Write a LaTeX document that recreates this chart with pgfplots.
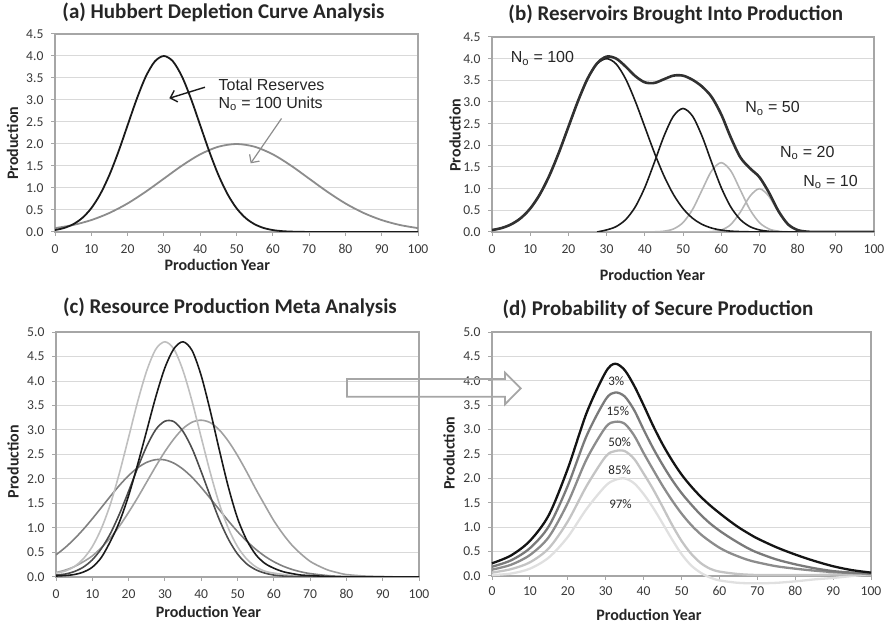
\documentclass[border=0pt]{standalone}
\usepackage{pgfplots}
\pgfplotsset{compat=1.18}
\usepackage{fontspec}
\setmainfont{Carlito}
\newfontfamily\arialfont{Liberation Sans}
\usetikzlibrary{arrows.meta}
\definecolor{gridc}{HTML}{D9D9D9}
\definecolor{axisc}{HTML}{A6A6A6}
\definecolor{tickc}{HTML}{3A3A3A}
\definecolor{titc}{HTML}{262626}
\definecolor{cblack}{HTML}{1A1A1A}
\definecolor{cgray}{HTML}{8C8C8C}
\definecolor{clight}{HTML}{B5B5B5}
\definecolor{cL}{HTML}{BFBFBF}
\definecolor{cD}{HTML}{4D4D4D}
\definecolor{cG}{HTML}{A0A0A0}
\definecolor{cM}{HTML}{808080}
\definecolor{dA}{HTML}{141414}
\definecolor{dB}{HTML}{7A7A7A}
\definecolor{dC}{HTML}{8C8C8C}
\definecolor{dD}{HTML}{C4C4C4}
\definecolor{dE}{HTML}{E0E0E0}
\tikzset{annot/.style={font=\arialfont\fontsize{16}{18}\selectfont, text=titc, anchor=base west}}
\pgfplotsset{
  panel/.style={
    scale only axis,
    xmin=0, xmax=100, ymin=0,
    xtick={0,10,...,100},
    ymajorgrids,
    major grid style={draw=gridc, line width=1pt},
    axis line style={draw=axisc, line width=1.4pt},
    tick style={draw=axisc, line width=1pt},
    tick align=outside,
    major tick length=4pt,
    tick pos=left,
    /pgf/number format/assume math mode=true,
    tick label style={font=\fontsize{13.6}{15}\selectfont, text=tickc},
    yticklabel style={/pgf/number format/fixed, /pgf/number format/fixed zerofill, /pgf/number format/precision=1, xshift=-4pt},
    xticklabel style={yshift=-5pt},
    xlabel={Production Year}, ylabel={Production},
    label style={font=\bfseries\fontsize{16}{18}\selectfont, text=titc},
    title style={font=\bfseries\fontsize{21}{24}\selectfont, text=titc, anchor=base},
    every axis plot/.append style={smooth, no markers, line join=round},
  },
}
\begin{document}
\begin{tikzpicture}[x=1pt,y=1pt]
\useasboundingbox (0,0) rectangle (888,623);
% ---------------- (a)
\begin{axis}[panel, at={(55pt,391pt)}, anchor=south west,
  width=363pt, height=198pt, ymax=4.5, ytick={0,0.5,...,4.5},
  title={(a) Hubbert Depletion Curve Analysis},
  title style={at={(axis description cs:0.464,1.049)}},
  xlabel style={at={(axis description cs:0.447,-0.192)}, anchor=base},
  ylabel style={at={(axis description cs:-0.117,0.448)}, anchor=center}]
\addplot[cgray, line width=1.8pt] coordinates {
(0,0.088) (5,0.159) (10,0.271) (15,0.433) (20,0.649) (25,0.916) (30,1.213) (35,1.510) (40,1.765) (45,1.938) (50,2.000) (55,1.938) (60,1.765) (65,1.510) (70,1.213) (75,0.916) (80,0.649) (85,0.433) (90,0.271) (95,0.159) (100,0.088)};
\addplot[cblack, line width=1.8pt] coordinates {
(0,0.044) (2.5,0.091) (5,0.176) (7.5,0.318) (10,0.541) (12.5,0.865) (15,1.299) (17.5,1.831) (20,2.426) (22.5,3.019) (25,3.530) (27.5,3.877) (30,4.000) (32.5,3.877) (35,3.530) (37.5,3.019) (40,2.426) (42.5,1.831) (45,1.299) (47.5,0.865) (50,0.541) (52.5,0.318) (55,0.176) (57.5,0.091) (60,0.044) (62.5,0.020) (65,0.009) (67.5,0.004) (70,0.001) (75,0) (80,0) (85,0) (90,0) (95,0) (100,0)};
\node[annot] at (axis cs:44.1,3.21) {Total Reserves};
\node[annot] at (axis cs:44.1,2.81) {N\textsubscript{o} = 100 Units};
\draw[cblack, line width=1.4pt, -{Straight Barb[length=6pt,width=12pt]}] (axis cs:41.3,3.29) -- (axis cs:31.5,3.04);
\draw[cgray, line width=1.2pt, -{Straight Barb[length=6pt,width=12pt]}] (axis cs:62.4,2.58) -- (axis cs:53.9,1.56);
\end{axis}
% ---------------- (b)
\begin{axis}[panel, at={(492pt,391pt)}, anchor=south west,
  width=382pt, height=195pt, ymax=4.5, ytick={0,0.5,...,4.5},
  title={(b) Reservoirs Brought Into Production},
  title style={at={(axis description cs:0.481,1.056)}},
  xlabel style={at={(axis description cs:0.420,-0.248)}, anchor=base},
  ylabel style={at={(axis description cs:-0.097,0.497)}, anchor=center}]
\addplot[clight, line width=1.6pt] coordinates {
(0,0) (40,0) (42.5,0.004) (45,0.018) (47.5,0.070) (50,0.217) (52.5,0.520) (55,0.970) (57.5,1.412) (60,1.600) (62.5,1.412) (65,0.970) (67.5,0.520) (70,0.217) (72.5,0.070) (75,0.018) (77.5,0.004) (80,0.001) (82.5,0) (100,0)};
\addplot[clight, line width=1.6pt] coordinates {
(0,0) (52.5,0) (55,0.001) (57.5,0.008) (60,0.044) (62.5,0.172) (65,0.458) (67.5,0.823) (70,1.000) (72.5,0.823) (75,0.458) (77.5,0.172) (80,0.044) (82.5,0.008) (85,0.001) (87.5,0) (100,0)};
\addplot[cblack, line width=1.6pt] coordinates {
(27.5,0) (30,0.048) (32.5,0.125) (35,0.287) (37.5,0.579) (40,1.027) (42.5,1.605) (45,2.208) (47.5,2.674) (50,2.850) (52.5,2.674) (55,2.208) (57.5,1.605) (60,1.027) (62.5,0.579) (65,0.287) (67.5,0.125) (70,0.048) (72.5,0.016) (75,0.005) (77.5,0.001) (80,0) (90,0) (100,0)};
\addplot[cblack, line width=1.6pt] coordinates {
(0,0.044) (2.5,0.091) (5,0.176) (7.5,0.318) (10,0.541) (12.5,0.865) (15,1.299) (17.5,1.831) (20,2.426) (22.5,3.019) (25,3.530) (27.5,3.877) (30,4.000) (32.5,3.877) (35,3.530) (37.5,3.019) (40,2.426) (42.5,1.831) (45,1.299) (47.5,0.865) (50,0.541) (52.5,0.318) (55,0.176) (57.5,0.091) (60,0.044) (62.5,0.020) (65,0.009) (67.5,0.004) (70,0.001) (75,0) (80,0) (90,0) (100,0)};
\addplot[cblack!90!white, line width=2.6pt] coordinates {
(0,0.044) (2.5,0.091) (5,0.176) (7.5,0.318) (10,0.541) (12.5,0.865) (15,1.299) (17.5,1.831) (20,2.426) (22.5,3.019) (25,3.535) (27.5,3.893) (30,4.048) (32.5,4.002) (35,3.817) (37.5,3.598) (40,3.454) (42.5,3.440) (45,3.525) (47.5,3.609) (50,3.608) (52.5,3.512) (55,3.355) (57.5,3.116) (60,2.715) (62.5,2.183) (65,1.724) (67.5,1.472) (70,1.266) (72.5,0.909) (75,0.481) (77.5,0.177) (80,0.045) (82.5,0.008) (85,0.001) (87.5,0) (100,0)};
\node[annot] at (axis cs:4.0,3.90) {N\textsubscript{o} = 100};
\node[annot] at (axis cs:65.4,2.75) {N\textsubscript{o} = 50};
\node[annot] at (axis cs:74.5,1.73) {N\textsubscript{o} = 20};
\node[annot] at (axis cs:80.6,1.06) {N\textsubscript{o} = 10};
\end{axis}
% ---------------- (c)
\begin{axis}[panel, at={(56pt,46pt)}, anchor=south west,
  width=363pt, height=245pt, ymax=5, ytick={0,0.5,...,5},
  title={(c) Resource Production Meta Analysis},
  title style={at={(axis description cs:0.479,1.049)}},
  xlabel style={at={(axis description cs:0.420,-0.166)}, anchor=base},
  ylabel style={at={(axis description cs:-0.118,0.471)}, anchor=center}]
\addplot[cM, line width=1.6pt] coordinates {
(0,0.452) (2.5,0.599) (5,0.772) (7.5,0.970) (10,1.188) (12.5,1.418) (15,1.650) (17.5,1.872) (20,2.069) (22.5,2.229) (25,2.340) (27.5,2.395) (30,2.389) (32.5,2.322) (35,2.200) (37.5,2.033) (40,1.829) (42.5,1.604) (45,1.372) (47.5,1.143) (50,0.928) (52.5,0.735) (55,0.567) (57.5,0.426) (60,0.312) (62.5,0.223) (65,0.155) (67.5,0.105) (70,0.070) (75,0.028) (80,0.010) (85,0.003) (90,0) (100,0)};
\addplot[cG, line width=1.6pt] coordinates {
(0,0.09) (2.5,0.14) (5,0.21) (7.5,0.31) (10,0.43) (12.5,0.60) (15,0.80) (17.5,1.04) (20,1.32) (22.5,1.62) (25,1.94) (27.5,2.26) (30,2.56) (32.5,2.82) (35,3.03) (37.5,3.16) (40,3.20) (42.5,3.15) (45,3.00) (47.5,2.77) (50,2.48) (52.5,2.15) (55,1.80) (57.5,1.47) (60,1.15) (62.5,0.88) (65,0.65) (67.5,0.47) (70,0.32) (72.5,0.22) (75,0.14) (77.5,0.09) (80,0.05) (85,0.02) (90,0.01) (95,0) (100,0)};
\addplot[cL, line width=1.6pt] coordinates {
(0,0.08) (2.5,0.12) (5,0.21) (7.5,0.37) (10,0.62) (12.5,0.99) (15,1.49) (17.5,2.13) (20,2.85) (22.5,3.58) (25,4.21) (27.5,4.65) (30,4.80) (32.5,4.65) (35,4.21) (37.5,3.58) (40,2.85) (42.5,2.13) (45,1.49) (47.5,0.99) (50,0.62) (52.5,0.37) (55,0.21) (57.5,0.12) (60,0.08) (65,0.03) (70,0.01) (75,0) (100,0)};
\addplot[cD, line width=1.6pt] coordinates {
(0,0.04) (2.5,0.06) (5,0.11) (7.5,0.20) (10,0.35) (12.5,0.58) (15,0.89) (17.5,1.29) (20,1.75) (22.5,2.23) (25,2.67) (27.5,3.01) (30,3.18) (32.5,3.17) (35,2.97) (37.5,2.62) (40,2.15) (42.5,1.65) (45,1.17) (47.5,0.77) (50,0.47) (52.5,0.27) (55,0.15) (57.5,0.08) (60,0.04) (62.5,0.02) (65,0.01) (70,0) (100,0)};
\addplot[cblack, line width=1.6pt] coordinates {
(0,0.02) (2.5,0.03) (5,0.05) (7.5,0.10) (10,0.20) (12.5,0.40) (15,0.73) (17.5,1.13) (20,1.66) (22.5,2.30) (25,2.99) (27.5,3.68) (30,4.27) (32.5,4.66) (35,4.80) (37.5,4.62) (40,4.11) (42.5,3.39) (45,2.59) (47.5,1.83) (50,1.20) (52.5,0.76) (55,0.46) (57.5,0.28) (60,0.18) (62.5,0.11) (65,0.07) (67.5,0.04) (70,0.03) (75,0.01) (80,0) (100,0)};
\end{axis}
% ---------------- (d)
\begin{axis}[panel, at={(492pt,47pt)}, anchor=south west, clip=false,
  width=379pt, height=244pt, ymax=5, ytick={0,0.5,...,5},
  xticklabel style={yshift=2pt},
  title={(d) Probability of Secure Production},
  title style={at={(axis description cs:0.438,1.042)}},
  xlabel style={at={(axis description cs:0.414,-0.183)}, anchor=base},
  ylabel style={at={(axis description cs:-0.113,0.504)}, anchor=center}]
\addplot[dE, line width=2.3pt] coordinates {
(0,0.02) (5,0.05) (10,0.15) (15,0.38) (20,0.80) (25,1.38) (30,1.85) (32.5,1.97) (35,2.00) (37.5,1.90) (40,1.68) (42.5,1.40) (45,1.08) (47.5,0.75) (50,0.45) (52.5,0.22) (55,0.07) (57.5,-0.03) (60,-0.09) (65,-0.14) (70,-0.15) (75,-0.14) (80,-0.11) (85,-0.07) (90,-0.04) (95,0.00) (100,0.04)};
\addplot[dD, line width=2.3pt] coordinates {
(0,0.07) (5,0.14) (10,0.28) (15,0.57) (20,1.12) (25,1.85) (30,2.45) (32.5,2.56) (35,2.56) (37.5,2.40) (40,2.10) (42.5,1.78) (45,1.42) (47.5,1.05) (50,0.72) (52.5,0.46) (55,0.27) (57.5,0.15) (60,0.09) (65,0.04) (70,0.02) (75,0.02) (80,0.02) (85,0.02) (90,0.03) (95,0.03) (100,0.04)};
\addplot[dC, line width=2.3pt] coordinates {
(0,0.13) (5,0.23) (10,0.43) (15,0.80) (20,1.50) (25,2.40) (30,3.05) (32.5,3.16) (35,3.12) (37.5,2.88) (40,2.52) (42.5,2.18) (45,1.85) (47.5,1.55) (50,1.28) (52.5,1.05) (55,0.86) (57.5,0.71) (60,0.58) (62.5,0.48) (65,0.40) (67.5,0.33) (70,0.28) (75,0.20) (80,0.15) (85,0.11) (90,0.08) (95,0.06) (100,0.05)};
\addplot[dB, line width=2.3pt] coordinates {
(0,0.19) (5,0.32) (10,0.57) (15,1.02) (20,1.85) (25,2.88) (30,3.62) (32.5,3.76) (35,3.68) (37.5,3.40) (40,3.00) (42.5,2.62) (45,2.28) (47.5,1.97) (50,1.70) (52.5,1.47) (55,1.26) (57.5,1.08) (60,0.93) (62.5,0.80) (65,0.68) (67.5,0.57) (70,0.48) (75,0.34) (80,0.24) (85,0.16) (90,0.10) (95,0.07) (100,0.05)};
\addplot[dA, line width=2.3pt] coordinates {
(0,0.26) (5,0.42) (10,0.72) (15,1.25) (20,2.20) (25,3.35) (30,4.18) (32.5,4.35) (35,4.22) (37.5,3.90) (40,3.50) (42.5,3.08) (45,2.70) (47.5,2.37) (50,2.08) (52.5,1.84) (55,1.63) (57.5,1.45) (60,1.29) (62.5,1.14) (65,1.00) (67.5,0.88) (70,0.77) (75,0.59) (80,0.44) (85,0.31) (90,0.20) (95,0.12) (100,0.07)};
\node[font=\fontsize{13}{15}\selectfont, text=titc] at (axis cs:32.8,3.99) {3\%};
\node[font=\fontsize{13}{15}\selectfont, text=titc] at (axis cs:33.2,3.37) {15\%};
\node[font=\fontsize{13}{15}\selectfont, text=titc] at (axis cs:33.7,2.75) {50\%};
\node[font=\fontsize{13}{15}\selectfont, text=titc] at (axis cs:33.7,2.16) {85\%};
\node[font=\fontsize{13}{15}\selectfont, text=titc] at (axis cs:33.9,1.48) {97\%};
\end{axis}
% ---------------- block arrow
\draw[axisc, line width=1.8pt, line join=miter] (347,244) -- (505,244) -- (505,250.3) -- (520.7,234.7) -- (505,218.7) -- (505,226.3) -- (347,226.3) -- cycle;
\end{tikzpicture}
\end{document}
